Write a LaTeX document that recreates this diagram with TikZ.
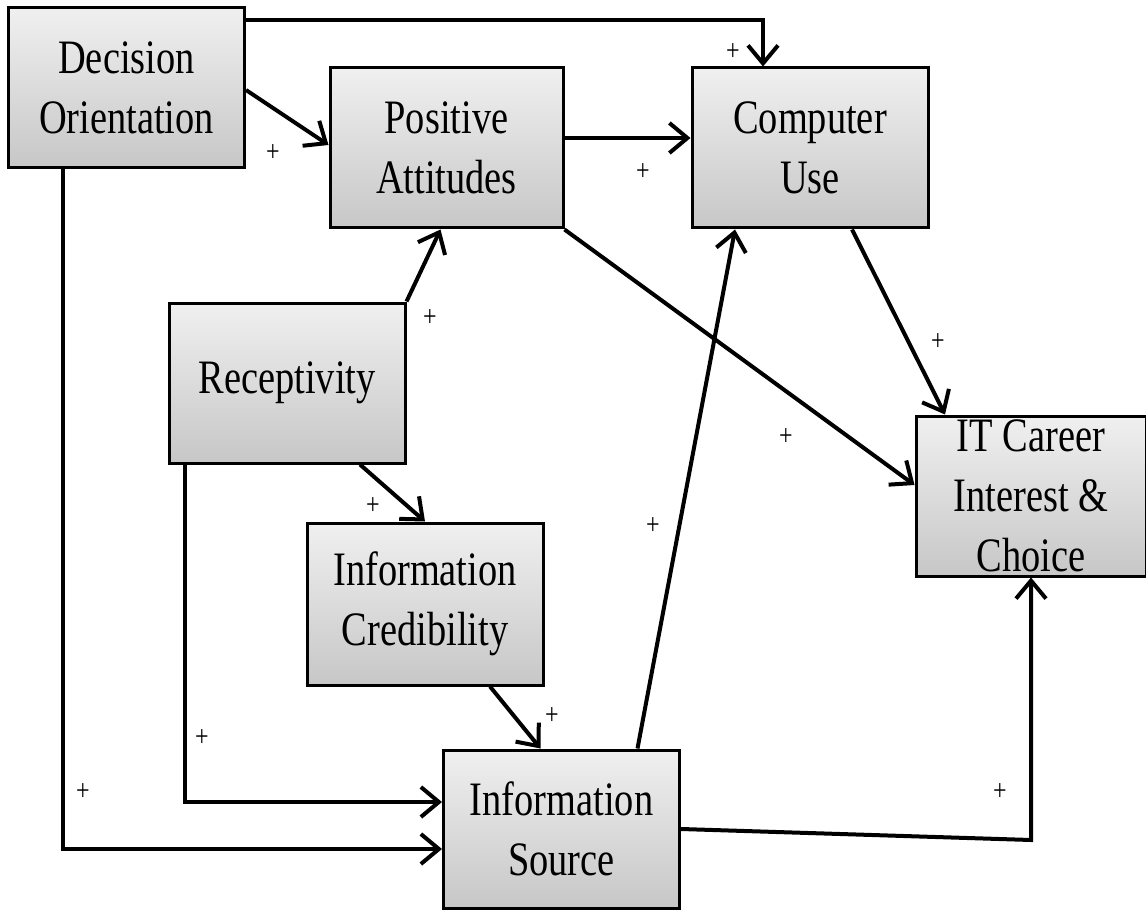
\documentclass[tikz,border=0pt]{standalone}
\usepackage{fontspec}
\setmainfont[FakeStretch=0.8]{Liberation Serif}
\usetikzlibrary{arrows.meta}

\begin{document}
\begin{tikzpicture}[x=1pt,y=-1pt,
    box/.style={draw=black, line width=3pt, top color=gray!12, bottom color=gray!44,
        minimum width=236pt, minimum height=160pt, align=center, inner sep=0pt,
        font=\fontsize{48}{60}\selectfont},
    arr/.style={line width=4pt, -{Straight Barb[length=18pt,width=30pt]}},
    plus/.style={font=\fontsize{30}{30}\selectfont, inner sep=0pt}]
    \useasboundingbox (0,0) rectangle (1146,920);
    \node [box] (deco) at (126.5,88) {Decision\\Orientation};
    \node [box, minimum width=233pt] (posi) at (446.5,148) {Positive\\Attitudes};
    \node [box] (comp) at (810,148) {Computer\\Use};
    \node [box] (rece) at (287,383) {Receptivity};
    \node [box, minimum height=162pt] (cred) at (425,604) {Information\\Credibility};
    \node [box, minimum height=158pt] (srce) at (561.5,829) {Information\\Source};
    \node [box, minimum width=230pt] (care) at (1031,496) {IT Career\\Interest \&\\Choice};
    \coordinate (bend) at (1031,840);
    \draw [arr] ([yshift=-14pt]deco.north east) -| ([xshift=-47pt]comp.north);
    \draw [arr] ([yshift=-2pt]deco.east) -- ([yshift=3pt]posi.west);
    \draw [arr] ([yshift=10pt]posi.east) -- ([yshift=10pt]comp.west);
    \draw [arr] (posi.south east) -- ([yshift=11pt]care.west);
    \draw [arr] ([xshift=42pt]comp.south) -- ([xshift=-86pt]care.north);
    \draw [arr] (rece.north east) -- ([xshift=-6pt]posi.south);
    \draw [arr] ([xshift=73pt]rece.south) -- (cred.north);
    \draw [arr] ([xshift=-102pt]rece.south) |- ([yshift=27pt]srce.west);
    \draw [arr] ([xshift=-64pt]deco.south) |- ([yshift=-20pt]srce.west);
    \draw [arr] ([xshift=65pt]cred.south) -- ([xshift=-21pt]srce.north);
    \draw [arr] ([xshift=76pt]srce.north) -- ([xshift=-75pt]comp.south);
    \draw [arr] (srce.east) -- (bend) -- (care.south);
    \node [plus] (p1) at (733,52) {+};
    \node [plus] (p2) at (273,153) {+};
    \node [plus] (p3) at (643,172) {+};
    \node [plus] (p4) at (786,437) {+};
    \node [plus] (p5) at (938,342) {+};
    \node [plus] (p6) at (430,318) {+};
    \node [plus] (p7) at (373,506) {+};
    \node [plus] (p8) at (202,738) {+};
    \node [plus] (p9) at (83,792) {+};
    \node [plus] (p10) at (552,716) {+};
    \node [plus] (p11) at (653,526) {+};
    \node [plus] (p12) at (1000,792) {+};
\end{tikzpicture}
\end{document}
